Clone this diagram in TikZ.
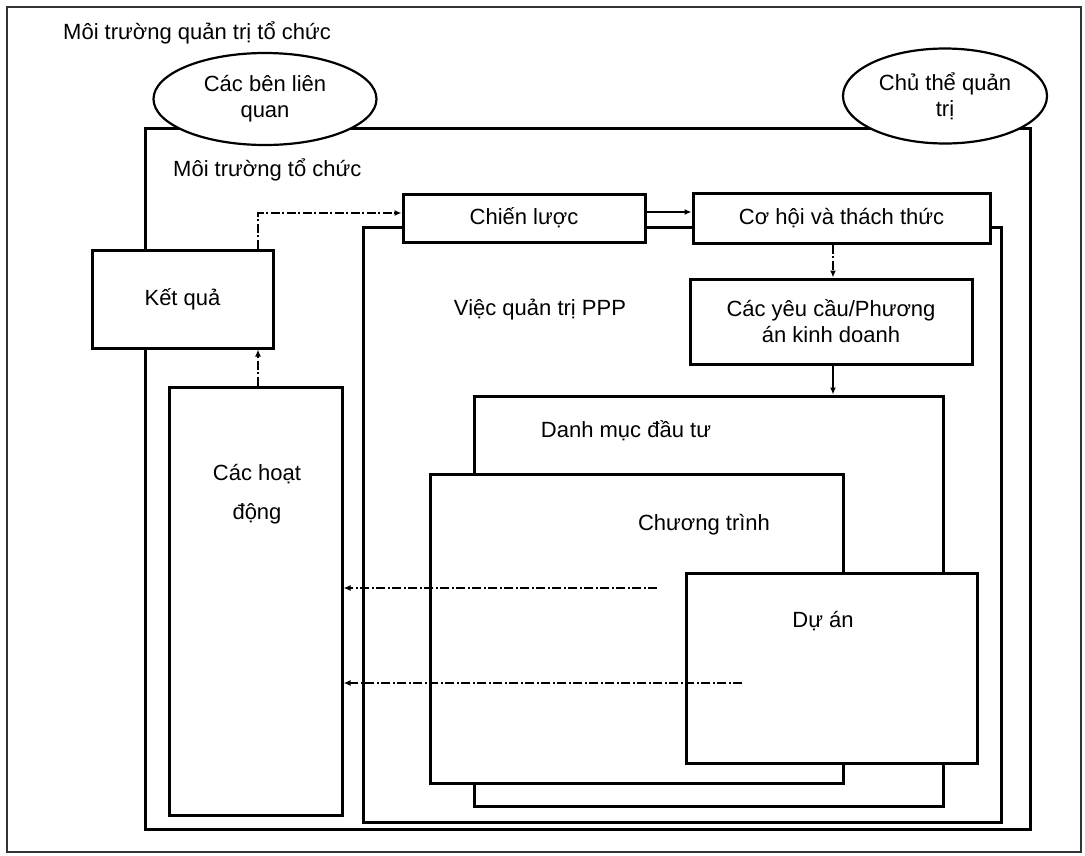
\documentclass[tikz,border=0pt]{standalone}
\usepackage{fontspec}
\setmainfont{Liberation Sans}
\usetikzlibrary{shapes.geometric,arrows.meta,calc}
\begin{document}
\begin{tikzpicture}[x=1pt,y=-1pt,
  every node/.style={font=\fontsize{22}{26}\selectfont, text=black},
  box/.style={draw, fill=white, line width=3pt, inner sep=0pt, align=center},
  ovalnode/.style={ellipse, draw, fill=white, line width=2.2pt, inner sep=0pt, align=center},
  lbl/.style={anchor=base, inner sep=0pt},
  dasharrow/.style={line width=1.4pt, dash pattern=on 9pt off 2.5pt on 2pt off 2.5pt, -{Latex[length=7pt,width=6pt]}},
  solidarrow/.style={line width=1.5pt, -{Latex[length=7pt,width=6pt]}}
]
\useasboundingbox (0,0) rectangle (1085,855);
\fill[white] (0,0) rectangle (1085,855);
% outer frame
\node[draw=black!80, line width=2pt, inner sep=0pt, minimum width=1074, minimum height=845] (outer) at (544,429.5) {};
\node[lbl, anchor=base west] (title) at (63,39) {Môi trường quản trị tổ chức};
% organisation environment
\node[box, minimum width=885, minimum height=701] (org) at (587.5,478.5) {};
\node[ovalnode, minimum width=223, minimum height=92] (stake) at (265,99) {Các bên liên\\quan};
\node[ovalnode, minimum width=204, minimum height=95] (gov) at (945,96) {Chủ thể quản\\trị};
\node[lbl, anchor=base west] (orgl) at (173,176) {Môi trường tổ chức};
% left column
\node[box, minimum width=181, minimum height=98] (kq) at (182.5,299) {Kết quả};
\node[box, minimum width=173, minimum height=428] (ka) at (255.5,601) {};
\node[lbl] (ka1) at (257,480) {Các hoạt};
\node[lbl] (ka2) at (257,519) {động};
% PPP governance
\node[box, minimum width=638, minimum height=595] (ppp) at (682,524.5) {};
\node[box, minimum width=242, minimum height=48] (cl) at (524,218) {Chiến lược};
\node[box, minimum width=297, minimum height=50] (ch) at (841.5,218) {Cơ hội và thách thức};
\node[box, minimum width=282, minimum height=85] (cy) at (831,321.5) {Các yêu cầu/Phương\\án kinh doanh};
\node[box, minimum width=469, minimum height=410] (dm) at (708.5,601) {};
\node[box, minimum width=413, minimum height=309] (ct) at (636.5,628.5) {};
\node[box, minimum width=291, minimum height=190] (da) at (831.5,668) {};
\node[lbl] (ppplbl) at (540,315) {Việc quản trị PPP};
\node[lbl] (dmlbl) at (626,437) {Danh mục đầu tư};
\node[lbl] (ctlbl) at (704,530) {Chương trình};
\node[lbl] (dalbl) at (823,627) {Dự án};
% connectors
\coordinate (colA) at (258,0);
\coordinate (colB) at (833,0);
\coordinate (src1) at (657,588);
\coordinate (src2) at (742,683);
\draw[dasharrow] (kq.north -| colA) |- ([yshift=5pt]cl.west);
\draw[dasharrow] (ka.north -| colA) -- (kq.south -| colA);
\draw[solidarrow] ([yshift=6pt]cl.east) -- ([yshift=6pt]ch.west);
\draw[dasharrow] (ch.south -| colB) -- (cy.north -| colB);
\draw[solidarrow] (cy.south -| colB) -- (dm.north -| colB);
\draw[dasharrow] (src1) -- (ka.east |- src1);
\draw[dasharrow] (src2) -- (ka.east |- src2);
\end{tikzpicture}
\end{document}
